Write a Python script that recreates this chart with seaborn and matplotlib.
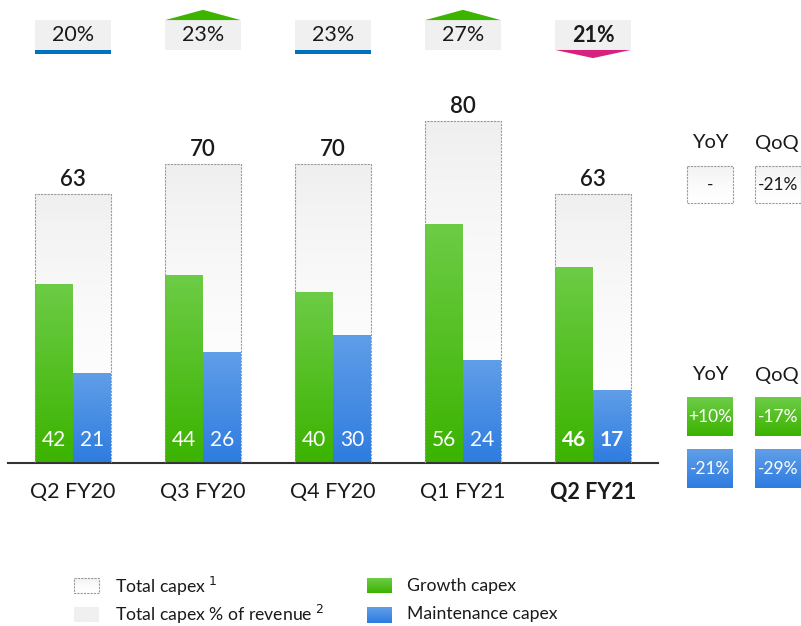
import numpy as np
import pandas as pd
import seaborn as sns
import matplotlib.pyplot as plt
from matplotlib.patches import Rectangle, Polygon
from matplotlib.colors import LinearSegmentedColormap

quarters = ['Q2 FY20', 'Q3 FY20', 'Q4 FY20', 'Q1 FY21', 'Q2 FY21']
growth = [42, 44, 40, 56, 46]
maint = [21, 26, 30, 24, 17]
total = [63, 70, 70, 80, 63]
pct_rev = ['20%', '23%', '23%', '27%', '21%']
trend = ['flat', 'up', 'flat', 'up', 'down']
yoy = ['-', '+10%', '-21%']
qoq = ['-21%', '-17%', '-29%']

GREEN_TOP, GREEN_BOT = '#6dcc46', '#3bb300'
BLUE_TOP, BLUE_BOT = '#609ee8', '#2e7ce0'
GRAY = '#f0f0f0'
EDGE = '#9a9a9a'
INK = '#1a1a1a'

sns.set_style('white')
plt.rcParams['font.family'] = ['Lato', 'DejaVu Sans']

df = pd.DataFrame({
    'quarter': quarters * 2,
    'type': ['Growth capex'] * 5 + ['Maintenance capex'] * 5,
    'value': growth + maint,
})

fig = plt.figure(figsize=(8.01, 6.26), dpi=100)
ax = fig.add_axes([8 / 801, (626 - 463) / 626, 650 / 801, 463 / 626])
ax.set_facecolor('none')

sns.barplot(data=df, x='quarter', y='value', hue='type', order=quarters,
            palette=[GREEN_BOT, BLUE_BOT], width=0.58, legend=False,
            ax=ax, zorder=2)
bar_patches = list(ax.patches)

tot_bars = ax.bar(range(5), total, width=0.58, facecolor='none',
                  edgecolor=EDGE, linestyle=(0, (2, 1)), linewidth=0.8, zorder=3)


def grad_fill(a, patch, top, bot, z, curve=1.0):
    bb = patch.get_bbox()
    x0, y0, x1, y1 = bb.x0, bb.y0, bb.x1, bb.y1
    cmap = LinearSegmentedColormap.from_list('g', [bot, top])
    g = np.linspace(0, 1, 256) ** curve
    im = a.imshow(g.reshape(-1, 1), extent=[x0, x1, y0, y1], origin='lower',
                  cmap=cmap, aspect='auto', zorder=z, vmin=0, vmax=1)
    im.set_clip_path(patch)


for i, p in enumerate(bar_patches):
    if i < 5:
        grad_fill(ax, p, GREEN_TOP, GREEN_BOT, 2.1)
    else:
        grad_fill(ax, p, BLUE_TOP, BLUE_BOT, 2.1)

for p in tot_bars:
    grad_fill(ax, p, '#efefef', '#ffffff', 1, curve=2.0)

ax.set_xlim(-0.5, 4.5)
ax.set_ylim(0, 108.4)

# value labels
for i in range(5):
    w = 'bold' if i == 4 else 'normal'
    ax.text(i - 0.145, 5.4, str(growth[i]), color='white', fontsize=15,
            ha='center', va='center', fontweight=w, zorder=5)
    ax.text(i + 0.145, 5.4, str(maint[i]), color='white', fontsize=15,
            ha='center', va='center', fontweight=w, zorder=5)
    ax.text(i, total[i] + 3.4, str(total[i]), color=INK, fontsize=16,
            ha='center', va='center', fontweight='semibold', zorder=5)

# % of revenue indicators on top
for i in range(5):
    ax.add_patch(Rectangle((i - 0.29, 96.7), 0.58, 7.0, facecolor=GRAY,
                           edgecolor='none', clip_on=False))
    if trend[i] == 'flat':
        ax.add_patch(Rectangle((i - 0.29, 95.8), 0.58, 0.9, facecolor='#0070c0',
                               edgecolor='none', clip_on=False))
    elif trend[i] == 'up':
        ax.add_patch(Polygon([(i - 0.29, 103.7), (i + 0.29, 103.7), (i, 106.1)],
                             facecolor='#3cb400', edgecolor='none', clip_on=False))
    else:
        ax.add_patch(Polygon([(i - 0.29, 96.7), (i + 0.29, 96.7), (i, 94.8)],
                             facecolor='#d6217e', edgecolor='none', clip_on=False))
    ax.text(i, 100.1, pct_rev[i], fontsize=15.5, color=INK, ha='center',
            va='center', fontweight='bold' if i == 4 else 'normal')

ax.set_xticks(range(5))
ax.set_xticklabels(quarters, fontsize=15.5, color=INK)
ax.get_xticklabels()[4].set_fontweight('bold')
ax.tick_params(axis='x', length=0, pad=14)
ax.set_yticks([])
ax.set_xlabel('')
ax.set_ylabel('')
for s in ['top', 'right', 'left']:
    ax.spines[s].set_visible(False)
ax.spines['bottom'].set_color('#333333')
ax.spines['bottom'].set_linewidth(1.5)

# overlay in pixel coordinates for side panel and legend
ov = fig.add_axes([0, 0, 1, 1])
ov.set_xlim(0, 801)
ov.set_ylim(626, 0)
ov.axis('off')
ov.patch.set_alpha(0)


def px_box(x, y, w, h, kind):
    r = Rectangle((x, y), w, h, facecolor='none', edgecolor=EDGE if kind == 'dash' else 'none',
                  linestyle=(0, (2, 1)), linewidth=0.8, zorder=3)
    ov.add_patch(r)
    if kind == 'dash':
        top, bot, c = '#f2f2f2', '#ffffff', 1.5
    elif kind == 'green':
        top, bot, c = GREEN_TOP, GREEN_BOT, 1.0
    elif kind == 'blue':
        top, bot, c = BLUE_TOP, BLUE_BOT, 1.0
    else:
        top, bot, c = GRAY, GRAY, 1.0
    cmap = LinearSegmentedColormap.from_list('g', [bot, top])
    g = np.linspace(0, 1, 64) ** c
    im = ov.imshow(g.reshape(-1, 1), extent=[x, x + w, y + h, y], origin='lower',
                   cmap=cmap, aspect='auto', zorder=2, vmin=0, vmax=1)
    im.set_clip_path(r)


col_x = [687, 755]
for yh, rows in [(143, [(166, 'dash', 0)]), (375, [(397, 'green', 1), (449, 'blue', 2)])]:
    ov.text(710, yh, 'YoY', fontsize=14.5, ha='center', va='center', color=INK)
    ov.text(777, yh, 'QoQ', fontsize=14.5, ha='center', va='center', color=INK)
    for y, kind, k in rows:
        h = 37 if kind == 'dash' else 39
        for j, x in enumerate(col_x):
            px_box(x, y, 46, h, kind)
            txt = yoy[k] if j == 0 else qoq[k]
            ov.text(x + 23, y + h / 2, txt, fontsize=12.5, ha='center', va='center',
                    color=INK if kind == 'dash' else 'white', zorder=5)

# legend
px_box(74, 578, 25, 15, 'dash')
px_box(74, 607, 25, 15, 'gray')
px_box(367, 578, 25, 15, 'green')
px_box(367, 607, 25, 16, 'blue')
ov.text(115, 586, 'Total capex $^{1}$', fontsize=12.7, va='center', color=INK)
ov.text(115, 614, 'Total capex % of revenue $^{2}$', fontsize=12.7, va='center', color=INK)
ov.text(407, 586, 'Growth capex', fontsize=12.7, va='center', color=INK)
ov.text(407, 614, 'Maintenance capex', fontsize=12.7, va='center', color=INK)

fig.savefig('out.png', dpi=100, facecolor='white')
